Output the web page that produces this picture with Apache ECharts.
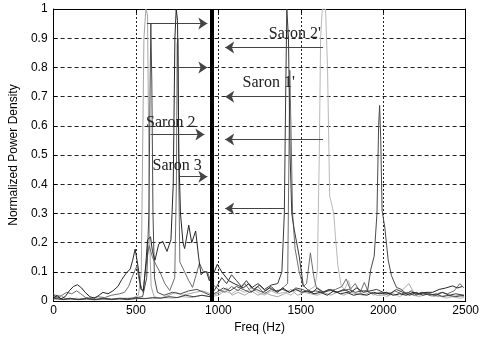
<!DOCTYPE html>
<html>
<head>
<meta charset="utf-8">
<script src="https://cdn.jsdelivr.net/npm/echarts@6/dist/echarts.min.js"></script>
<style>
  html, body { margin: 0; padding: 0; background: #fff; }
  #chart { width: 482px; height: 339px; }
</style>
</head>
<body>
<div id="chart"></div>
<script>
// spectra, [freq (Hz), normalized power density]
const sarA = [[0,0.01],[20,0.02],[45,0.008],[70,0.015],[95,0.035],[120,0.05],[145,0.056],[170,0.045],[195,0.028],[220,0.015],[250,0.01],[275,0.02],[300,0.03],[330,0.025],[360,0.035],[390,0.05],[415,0.075],[440,0.095],[465,0.11],[480,0.14],[495,0.178],[512,0.12],[530,0.04],[545,0.036],[560,0.13],[570,0.21],[588,0.22],[600,0.17],[615,0.14],[638,0.195],[662,0.205],[688,0.17],[712,0.21],[726,0.4],[736,0.9],[744,1.0],[752,0.96],[760,0.5],[770,0.3],[785,0.2],[795,0.18],[820,0.26],[838,0.2],[862,0.24],[880,0.15],[895,0.09],[912,0.1],[928,0.1],[945,0.07],[975,0.1],[993,0.126],[1020,0.1],[1062,0.07],[1095,0.06],[1122,0.053],[1150,0.045],[1185,0.06],[1215,0.04],[1250,0.055],[1285,0.035],[1320,0.05],[1355,0.03],[1390,0.045],[1430,0.03],[1470,0.04],[1505,0.03],[1540,0.035],[1580,0.025],[1620,0.03],[1660,0.02],[1700,0.035],[1740,0.025],[1780,0.03],[1820,0.02],[1860,0.025],[1900,0.02],[1940,0.03],[1980,0.025],[2020,0.03],[2060,0.02],[2100,0.025],[2140,0.02],[2180,0.03],[2220,0.025],[2260,0.03],[2300,0.03],[2340,0.04],[2380,0.045],[2420,0.052],[2450,0.045],[2480,0.05]];
const sarB = [[0,0.02],[30,0.012],[60,0.005],[100,0.008],[150,0.005],[200,0.01],[250,0.005],[300,0.008],[350,0.006],[400,0.01],[450,0.008],[500,0.012],[540,0.015],[565,0.08],[578,0.3],[585,0.7],[590,0.95],[596,0.75],[603,0.3],[612,0.08],[630,0.03],[670,0.02],[720,0.03],[770,0.025],[820,0.035],[870,0.04],[910,0.03],[950,0.02],[990,0.03],[1030,0.045],[1070,0.035],[1110,0.05],[1150,0.04],[1190,0.03],[1230,0.04],[1270,0.03],[1310,0.045],[1350,0.035],[1390,0.04],[1430,0.03],[1470,0.045],[1510,0.04],[1550,0.03],[1590,0.035],[1630,0.03],[1670,0.04],[1710,0.03],[1750,0.035],[1790,0.04],[1830,0.03],[1870,0.035],[1905,0.035],[1925,0.11],[1945,0.154],[1962,0.3],[1972,0.6],[1978,0.67],[1985,0.55],[1993,0.31],[2010,0.25],[2030,0.14],[2050,0.087],[2080,0.047],[2110,0.04],[2140,0.025],[2170,0.035],[2200,0.02],[2240,0.03],[2280,0.02],[2320,0.025],[2360,0.015],[2400,0.02],[2440,0.015],[2490,0.02]];
const sarC = [[0,0.025],[20,0.018],[40,0.02],[70,0.01],[100,0.005],[140,0.01],[180,0.006],[230,0.01],[280,0.005],[330,0.008],[380,0.006],[430,0.01],[480,0.01],[515,0.02],[532,0.1],[540,0.5],[548,0.9],[560,1.0],[570,0.98],[576,0.6],[583,0.2],[592,0.05],[610,0.015],[650,0.01],[700,0.02],[740,0.03],[780,0.02],[820,0.025],[860,0.03],[900,0.035],[930,0.03],[970,0.02],[1010,0.03],[1050,0.045],[1083,0.02],[1120,0.03],[1160,0.02],[1200,0.035],[1240,0.02],[1280,0.03],[1320,0.02],[1360,0.015],[1400,0.025],[1440,0.04],[1480,0.02],[1520,0.03],[1560,0.025],[1600,0.02],[1640,0.03],[1680,0.02],[1720,0.03],[1760,0.02],[1800,0.03],[1840,0.025],[1880,0.02],[1920,0.03],[1960,0.02],[2000,0.02],[2040,0.03],[2080,0.02],[2120,0.04],[2155,0.06],[2185,0.03],[2220,0.02],[2260,0.03],[2300,0.02],[2340,0.015],[2380,0.02],[2420,0.015],[2460,0.02],[2490,0.015]];
const sarD = [[0,0.015],[25,0.01],[50,0.02],[80,0.03],[110,0.025],[140,0.035],[165,0.025],[195,0.012],[230,0.01],[270,0.015],[310,0.012],[350,0.02],[400,0.025],[430,0.03],[455,0.05],[475,0.08],[490,0.1],[505,0.12],[520,0.07],[543,0.03],[560,0.12],[580,0.19],[600,0.15],[625,0.12],[645,0.1],[675,0.06],[705,0.036],[735,0.08],[745,0.4],[750,0.88],[755,0.9],[760,0.4],[766,0.134],[795,0.1],[820,0.07],[843,0.047],[865,0.09],[885,0.13],[909,0.1],[933,0.1],[960,0.06],[1000,0.04],[1040,0.03],[1080,0.05],[1120,0.035],[1160,0.06],[1200,0.03],[1240,0.05],[1280,0.025],[1320,0.04],[1360,0.03],[1400,0.05],[1420,0.06],[1428,0.5],[1433,0.79],[1440,0.6],[1450,0.3],[1465,0.18],[1490,0.1],[1515,0.05],[1535,0.06],[1548,0.12],[1558,0.165],[1570,0.165],[1580,0.08],[1595,0.045],[1630,0.03],[1670,0.035],[1710,0.04],[1750,0.05],[1775,0.076],[1800,0.04],[1830,0.06],[1860,0.03],[1885,0.064],[1910,0.03],[1950,0.025],[1990,0.03],[2030,0.02],[2070,0.035],[2110,0.025],[2150,0.03],[2190,0.02],[2230,0.03],[2270,0.025],[2310,0.02],[2350,0.03],[2390,0.025],[2430,0.035],[2465,0.06],[2490,0.045]];
const sarE = [[0,0.01],[50,0.005],[100,0.01],[150,0.005],[200,0.008],[250,0.005],[300,0.01],[350,0.006],[400,0.008],[450,0.005],[500,0.01],[550,0.008],[600,0.012],[650,0.01],[700,0.015],[750,0.012],[800,0.02],[850,0.015],[900,0.02],[950,0.015],[990,0.05],[1020,0.08],[1050,0.06],[1080,0.09],[1110,0.07],[1140,0.05],[1170,0.07],[1200,0.045],[1240,0.06],[1280,0.04],[1320,0.055],[1360,0.06],[1385,0.1],[1400,0.3],[1408,0.7],[1415,1.0],[1425,0.9],[1435,0.5],[1445,0.3],[1460,0.245],[1490,0.154],[1515,0.053],[1540,0.04],[1570,0.03],[1600,0.045],[1640,0.03],[1680,0.04],[1720,0.03],[1760,0.04],[1800,0.03],[1840,0.045],[1880,0.03],[1920,0.035],[1960,0.04],[2000,0.03],[2040,0.025],[2080,0.04],[2120,0.03],[2160,0.02],[2200,0.03],[2240,0.02],[2280,0.025],[2320,0.02],[2360,0.03],[2400,0.02],[2440,0.025],[2490,0.02]];
const sarF = [[0,0.005],[60,0.01],[120,0.005],[180,0.008],[240,0.004],[300,0.006],[360,0.005],[420,0.008],[480,0.006],[540,0.01],[600,0.008],[660,0.012],[720,0.01],[780,0.015],[840,0.012],[900,0.02],[950,0.015],[1000,0.02],[1040,0.035],[1080,0.025],[1120,0.04],[1160,0.03],[1200,0.045],[1240,0.03],[1280,0.02],[1320,0.035],[1360,0.025],[1400,0.03],[1440,0.02],[1480,0.04],[1520,0.03],[1555,0.04],[1585,0.05],[1600,0.1],[1612,0.5],[1620,0.9],[1630,1.0],[1650,1.0],[1662,0.8],[1675,0.36],[1700,0.3],[1710,0.22],[1725,0.12],[1745,0.053],[1765,0.04],[1790,0.07],[1810,0.03],[1840,0.05],[1870,0.025],[1900,0.04],[1940,0.02],[1980,0.03],[2020,0.015],[2060,0.025],[2100,0.015],[2140,0.03],[2180,0.02],[2220,0.015],[2260,0.025],[2300,0.015],[2340,0.02],[2380,0.01],[2420,0.015],[2460,0.01],[2490,0.012]];

// divider and annotations
const dividerFreq = 957;
const arrows = [
  [[566, 0.95], [933, 0.95]],
  [[753, 0.80], [933, 0.80]],
  [[589, 0.57], [915, 0.57]],
  [[759, 0.426], [933, 0.426]],
  [[1635, 0.868], [1041, 0.868]],
  [[1419, 0.70], [1041, 0.70]],
  [[1635, 0.553], [1041, 0.553]],
  [[1401, 0.317], [1041, 0.317]]
];
const labels = [
  ['Saron 2', 711, 0.609],
  ['Saron 3', 750, 0.464],
  ['Saron 2\'', 1464, 0.916],
  ['Saron 1\'', 1305, 0.747]
];

const chart = echarts.init(document.getElementById('chart'));

const spectrum = (data, color) => ({
  type: 'line',
  data: data,
  showSymbol: false,
  symbol: 'none',
  lineStyle: { color: color, width: 1 },
  z: 3
});

const axisFont = { color: '#000', fontSize: 12, fontFamily: 'Liberation Sans, Arial, sans-serif' };

chart.setOption({
  animation: false,
  grid: { left: 52, right: 13, top: 9, bottom: 33 },
  xAxis: [
    {
      type: 'value', min: 0, max: 2500, interval: 500,
      name: 'Freq (Hz)', nameLocation: 'middle', nameGap: 16,
      nameTextStyle: axisFont,
      axisLine: { onZero: false, lineStyle: { color: '#000' } },
      axisTick: { inside: true, length: 4, lineStyle: { color: '#000' } },
      axisLabel: Object.assign({ margin: 4, formatter: v => String(v) }, axisFont),
      splitLine: { show: true, lineStyle: { color: '#222', type: [2, 2] } }
    },
    {
      type: 'value', min: 0, max: 2500, interval: 500, position: 'top',
      axisLine: { onZero: false, lineStyle: { color: '#000' } },
      axisTick: { inside: true, length: 4, lineStyle: { color: '#000' } },
      axisLabel: { show: false },
      splitLine: { show: false }
    }
  ],
  yAxis: [
    {
      type: 'value', min: 0, max: 1, interval: 0.1,
      name: 'Normalized Power Density', nameLocation: 'middle', nameGap: 32,
      nameTextStyle: axisFont,
      axisLine: { show: true, onZero: false, lineStyle: { color: '#000' } },
      axisTick: { show: true, inside: true, length: 4, lineStyle: { color: '#000' } },
      axisLabel: Object.assign({ margin: 6 }, axisFont),
      splitLine: { show: true, lineStyle: { color: '#222', type: [4, 3] } }
    },
    {
      type: 'value', min: 0, max: 1, interval: 0.1, position: 'right',
      axisLine: { show: true, onZero: false, lineStyle: { color: '#000' } },
      axisTick: { show: true, inside: true, length: 4, lineStyle: { color: '#000' } },
      axisLabel: { show: false },
      splitLine: { show: false }
    }
  ],
  series: [
    spectrum(sarC, '#a6a6a6'),
    spectrum(sarF, '#b8b8b8'),
    spectrum(sarD, '#6e6e6e'),
    spectrum(sarB, '#4a4a4a'),
    spectrum(sarE, '#3a3a3a'),
    spectrum(sarA, '#262626'),
    {
      type: 'line',
      data: [],
      z: 5,
      markLine: {
        silent: true,
        symbol: ['none', 'none'],
        label: { show: false },
        lineStyle: { color: '#000', width: 4, type: 'solid' },
        data: [{ xAxis: dividerFreq }]
      }
    },
    {
      type: 'line',
      data: [],
      z: 6,
      markLine: {
        silent: true,
        symbol: ['none', 'arrow'],
        symbolSize: 9,
        label: { show: false },
        lineStyle: { color: '#444', width: 1, type: 'solid' },
        itemStyle: { color: '#000' },
        data: arrows.map(a => [{ coord: a[0] }, { coord: a[1] }])
      },
      markPoint: {
        silent: true,
        symbol: 'circle',
        symbolSize: 0,
        label: {
          show: true, position: 'inside', formatter: '{b}',
          color: '#222', fontSize: 16, fontFamily: 'Liberation Serif, Times New Roman, serif'
        },
        data: labels.map(l => ({ name: l[0], coord: [l[1], l[2]] }))
      }
    }
  ]
});
</script>
</body>
</html>
